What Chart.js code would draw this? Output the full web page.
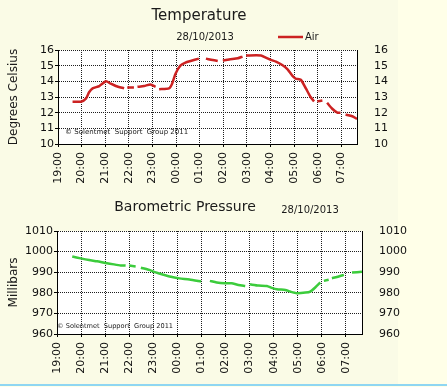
<!DOCTYPE html>
<html>
<head>
  <title>Temperature and Pressure</title>
  <script src="https://cdn.jsdelivr.net/npm/chart.js"></script>
  <style>
    body {
      margin: 0;
      background-color: #ffffe8;
      font-family: "DejaVu Sans", sans-serif;
    }

    .page {
      position: relative;
      width: 447px;
      height: 387px;
      overflow: hidden;
    }

    .panel {
      position: absolute;
      left: 0;
      top: 0;
      width: 398px;
      height: 384px;
      background: #fafbe6;
    }

    .box {
      position: absolute;
      left: 0;
    }

    .rule {
      position: absolute;
      left: 0;
      top: 384px;
      width: 447px;
      height: 2px;
      background: #8fd6f2;
    }
  </style>
</head>
<body>
  <div class="page">
    <div class="panel"></div>
    <div class="box" style="top:0"><canvas id="temp" width="447" height="190"></canvas></div>
    <div class="box" style="top:192px"><canvas id="press" width="447" height="190"></canvas></div>
    <div class="rule"></div>
  </div>

  <script>
    // minutes after 19:00, null = missing reading
    const tempMinutes = [37, 58, 71, 79, 88, 105, 122, 134, 147, 168, 172, 176, 193, 197, 202, 219, 235, 248, 252,
      257, 282, 290, 299, 311, 324, 337, 358, 366, 376, 389, 406, 412, 419, 435, 457, 469, 473, 478, 516, 528,
      541, 554, 570, 583, 596, 604, 617, 630, 642, 651, 655, 659, 672, 678, 684, 697, 710, 718, 724, 731, 748, 760];
    const tempValues = [12.7, 12.7, 12.9, 13.3, 13.55, 13.7, 14.0, 13.85, 13.7, 13.55, null, 13.6, 13.6, null, 13.65, 13.7, 13.8, 13.65, null,
      13.5, 13.55, 13.85, 14.5, 15.0, 15.2, 15.3, 15.45, null, 15.45, 15.38, 15.3, null, 15.32, 15.4, 15.47, 15.58, null, 15.65, 15.65, 15.52,
      15.37, 15.26, 15.04, 14.78, 14.35, 14.18, 14.1, 13.55, 13.0, 12.72, null, 12.72, 12.78, null, 12.63, 12.25, 12.0, 12.0, null, 11.88, 11.77, 11.6];

    const pressMinutes = [38, 59, 80, 100, 121, 142, 159, 171, 175, 180, 196, 202, 209, 230, 246, 263, 284, 305, 330, 359, 370,
      381, 398, 419, 435, 452, 469, 475, 481, 502, 523, 535, 548, 569, 581, 598, 619, 631, 644, 656, 660,
      665, 677, 681, 685, 702, 715, 725, 735, 760];
    const pressValues = [997.6, 996.7, 995.9, 995.3, 994.5, 993.8, 993.3, 993.2, null, 993.2, 992.8, null, 992.2, 991.1, 989.9, 988.9, 987.8, 987.0, 986.5, 985.5, null,
      985.8, 985.0, 984.6, 984.6, 983.8, 983.3, null, 984.1, 983.5, 983.3, 982.4, 981.7, 981.4, 980.6, 979.8, 980.1, 980.6, 982.7, 985.0, null,
      985.8, 986.3, null, 987.1, 987.9, 988.7, null, 989.8, 990.2];

    const hourTicks = [0, 60, 120, 180, 240, 300, 360, 420, 480, 540, 600, 660, 720];
    const startHour = 19;
    const dateLabel = "28/10/2013";
    const copyright = "\u00a9 Solentmet  Support  Group 2011";

    const font = '"DejaVu Sans", sans-serif';

    // white plot area, headings, legend and the small copyright line
    const decorations = {
      id: "decorations",
      beforeDraw(chart) {
        const a = chart.chartArea;
        const ctx = chart.ctx;
        ctx.save();
        ctx.fillStyle = "#ffffff";
        ctx.fillRect(a.left, a.top, a.right - a.left, a.bottom - a.top);
        ctx.restore();
      },
      beforeDatasetsDraw(chart, args, opts) {
        const a = chart.chartArea;
        const ctx = chart.ctx;
        ctx.save();
        ctx.fillStyle = "#222";
        ctx.font = opts.copySize + "px " + font;
        ctx.textBaseline = "middle";
        ctx.fillText(copyright, a.left + opts.copyDx, a.bottom - opts.copyDy);
        ctx.restore();
      },
      afterDraw(chart, args, opts) {
        const ctx = chart.ctx;
        ctx.save();
        ctx.fillStyle = "#1a1a1a";
        ctx.textAlign = "center";
        ctx.textBaseline = "middle";
        ctx.font = opts.titleSize + "px " + font;
        ctx.fillText(opts.title, opts.titleX, opts.titleY);
        ctx.font = "10px " + font;
        ctx.fillText(dateLabel, opts.dateX, opts.dateY);
        if (opts.legendX) {
          const ds = chart.data.datasets[0];
          ctx.strokeStyle = ds.borderColor;
          ctx.lineWidth = 2.5;
          ctx.beginPath();
          ctx.moveTo(opts.legendX, opts.dateY);
          ctx.lineTo(opts.legendX + 25, opts.dateY);
          ctx.stroke();
          ctx.textAlign = "left";
          ctx.fillText(ds.label, opts.legendX + 27, opts.dateY);
        }
        ctx.restore();
      }
    };

    function points(xs, ys) {
      return xs.map((m, i) => ({ x: m, y: ys[i] }));
    }

    function hourLabel(v) {
      const h = (startHour + Math.round(v / 60)) % 24;
      return String(h).padStart(2, "0") + ":00";
    }

    function makeChart(id, cfg) {
      const grid = { color: "#1e1e1e", lineWidth: 1, tickLength: 3, tickColor: "#000" };
      const border = { display: true, color: "#000", width: 1, dash: [1, 1] };
      const tickFont = { family: font, size: 11 };

      return new Chart(document.getElementById(id), {
        type: "line",
        data: {
          datasets: [{
            label: cfg.label,
            data: points(cfg.xs, cfg.ys),
            borderColor: cfg.color,
            borderWidth: 2.5,
            pointRadius: 0,
            tension: 0.2,
            spanGaps: false
          }]
        },
        options: {
          responsive: false,
          animation: false,
          events: [],
          layout: { padding: { top: cfg.top, left: 0, right: 0, bottom: 0 } },
          plugins: {
            legend: { display: false },
            tooltip: { enabled: false },
            decorations: cfg.deco
          },
          scales: {
            x: {
              type: "linear",
              min: 0,
              max: 760,
              afterBuildTicks: s => { s.ticks = hourTicks.map(v => ({ value: v })); },
              afterFit: s => { s.height = cfg.xHeight; },
              grid: grid,
              border: border,
              ticks: {
                autoSkip: false,
                minRotation: 90,
                maxRotation: 90,
                padding: 5,
                color: "#111",
                font: tickFont,
                callback: hourLabel
              }
            },
            y: {
              position: "left",
              min: cfg.min,
              max: cfg.max,
              afterFit: s => { s.width = cfg.leftWidth; },
              grid: grid,
              border: border,
              ticks: { stepSize: cfg.step, autoSkip: false, padding: 1, color: "#111", font: tickFont, callback: v => String(v) },
              title: {
                display: true,
                text: cfg.yTitle,
                color: "#1a1a1a",
                font: { family: font, size: 12 },
                padding: { top: 7, bottom: 0 }
              }
            },
            y2: {
              position: "right",
              min: cfg.min,
              max: cfg.max,
              afterFit: s => { s.width = cfg.rightWidth; },
              grid: { display: false },
              border: { display: true, color: "#000", width: 1 },
              ticks: { stepSize: cfg.step, autoSkip: false, padding: 9, color: "#111", font: tickFont, callback: v => String(v) }
            }
          }
        },
        plugins: [decorations]
      });
    }

    makeChart("temp", {
      label: "Air",
      xs: tempMinutes,
      ys: tempValues,
      color: "#cc2222",
      min: 10,
      max: 16,
      step: 1,
      yTitle: "Degrees Celsius",
      top: 50,
      xHeight: 46,
      leftWidth: 58,
      rightWidth: 90,
      deco: {
        title: "Temperature", titleSize: 15, titleX: 199, titleY: 16,
        dateX: 205, dateY: 37, legendX: 278,
        copySize: 7, copyDx: 7, copyDy: 12
      }
    });

    makeChart("press", {
      label: "Pressure",
      xs: pressMinutes,
      ys: pressValues,
      color: "#3ccc3c",
      min: 960,
      max: 1010,
      step: 10,
      yTitle: "Millibars",
      top: 39,
      xHeight: 48,
      leftWidth: 57,
      rightWidth: 85,
      deco: {
        title: "Barometric Pressure", titleSize: 14, titleX: 185, titleY: 15,
        dateX: 310, dateY: 18, legendX: 0,
        copySize: 6.6, copyDx: 0, copyDy: 8
      }
    });
  </script>
</body>
</html>
